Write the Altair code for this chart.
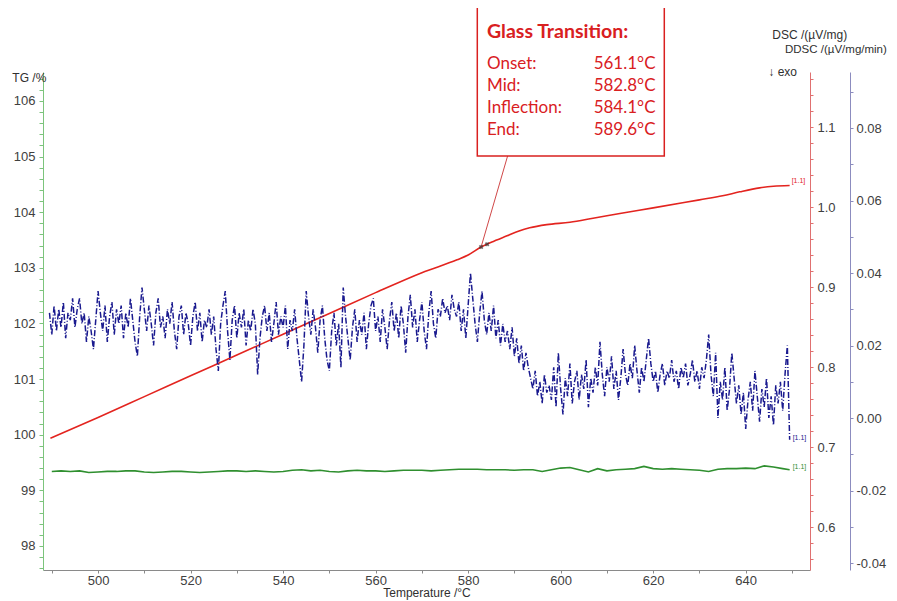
import altair as alt
import pandas as pd

# ---------------- data ----------------
X_DOMAIN = [488.1, 653.9]
TG_DOMAIN = [97.568, 106.52]
DSC_DOMAIN = [0.5463, 1.1688]
DDSC_DOMAIN = [-0.04193, 0.09545]

RED_T = [489.7, 500, 510, 520, 530, 540, 550, 560, 570, 577.6, 580, 582.8, 585,
         588.4, 591, 593.3, 597, 602, 607, 612.8, 620, 630, 635, 638.7, 643, 646, 649.5]
RED_DSC = [0.711, 0.737, 0.763, 0.789, 0.815, 0.841, 0.867, 0.893, 0.918, 0.934, 0.940,
           0.950, 0.956, 0.964, 0.970, 0.974, 0.978, 0.981, 0.986, 0.992, 0.999, 1.009,
           1.014, 1.019, 1.024, 1.026, 1.027]

GREEN_T = list(range(490, 650, 2)) + [649.5]
GREEN_TG = [99.34, 99.35, 99.34, 99.35, 99.32, 99.33, 99.34, 99.34, 99.35, 99.35,
            99.33, 99.32, 99.33, 99.34, 99.34, 99.33, 99.32, 99.33, 99.34, 99.35,
            99.35, 99.34, 99.35, 99.34, 99.33, 99.34, 99.36, 99.37, 99.35, 99.36,
            99.34, 99.33, 99.35, 99.36, 99.35, 99.35, 99.34, 99.35, 99.36, 99.36,
            99.36, 99.35, 99.36, 99.37, 99.38, 99.38, 99.38, 99.37, 99.37, 99.37,
            99.36, 99.37, 99.37, 99.34, 99.37, 99.40, 99.41, 99.37, 99.33, 99.39,
            99.35, 99.37, 99.38, 99.39, 99.43, 99.39, 99.38, 99.39, 99.38, 99.37,
            99.36, 99.34, 99.38, 99.39, 99.39, 99.40, 99.39, 99.44, 99.42, 99.39,
            99.37]

BLUE_T_START = 489.5
BLUE_T_STEP = 0.5
BLUE_DDSC = [
    0.029, 0.023, 0.031, 0.024, 0.030, 0.025, 0.032, 0.022, 0.029, 0.027,
    0.033, 0.025, 0.030, 0.033, 0.026, 0.029, 0.021, 0.028, 0.024, 0.019,
    0.027, 0.035, 0.029, 0.024, 0.031, 0.021, 0.028, 0.032, 0.023, 0.030,
    0.026, 0.031, 0.022, 0.029, 0.025, 0.033, 0.027, 0.021, 0.017, 0.028,
    0.036, 0.030, 0.024, 0.031, 0.026, 0.020, 0.029, 0.033, 0.025, 0.028,
    0.022, 0.030, 0.026, 0.032, 0.024, 0.019, 0.028, 0.031, 0.023, 0.029,
    0.026, 0.020, 0.028, 0.032, 0.024, 0.029, 0.021, 0.027, 0.025, 0.030,
    0.023, 0.028, 0.019, 0.013, 0.026, 0.031, 0.035, 0.024, 0.016, 0.027,
    0.031, 0.022, 0.029, 0.025, 0.030, 0.020, 0.027, 0.024, 0.030, 0.026,
    0.012, 0.022, 0.028, 0.031, 0.024, 0.029, 0.021, 0.026, 0.032, 0.023,
    0.028, 0.025, 0.031, 0.019, 0.027, 0.024, 0.030, 0.022, 0.016, 0.010,
    0.020, 0.035, 0.028, 0.023, 0.030, 0.025, 0.018, 0.027, 0.031, 0.022,
    0.016, 0.013, 0.024, 0.029, 0.020, 0.026, 0.014, 0.036, 0.028, 0.022,
    0.016, 0.025, 0.030, 0.021, 0.027, 0.023, 0.029, 0.019, 0.026, 0.031,
    0.033, 0.024, 0.028, 0.021, 0.030, 0.025, 0.019, 0.027, 0.032, 0.024,
    0.029, 0.022, 0.031, 0.026, 0.018, 0.028, 0.034, 0.025, 0.030, 0.021,
    0.027, 0.032, 0.024, 0.019, 0.029, 0.035, 0.026, 0.022, 0.030, 0.028,
    0.033, 0.029, 0.031, 0.027, 0.034, 0.030, 0.028, 0.032, 0.024, 0.030,
    0.022, 0.031, 0.040, 0.033, 0.026, 0.021, 0.029, 0.035, 0.027, 0.023,
    0.029, 0.024, 0.031, 0.022, 0.027, 0.020, 0.026, 0.021, 0.024, 0.019,
    0.025, 0.017, 0.022, 0.015, 0.020, 0.013, 0.018, 0.014, 0.011, 0.008,
    0.013, 0.006, 0.010, 0.004, 0.012, 0.007, 0.009, 0.005, 0.014, 0.003,
    0.018, 0.008, 0.001, 0.011, 0.006, 0.015, 0.004, 0.010, 0.013, 0.005,
    0.012, 0.008, 0.016, 0.003, 0.011, 0.007, 0.014, 0.009, 0.021, 0.012,
    0.006, 0.014, 0.010, 0.017, 0.008, 0.013, 0.005, 0.011, 0.019, 0.012,
    0.009, 0.015, 0.011, 0.020, 0.013, 0.007, 0.014, 0.010, 0.016, 0.022,
    0.015, 0.010, 0.013, 0.007, 0.012, 0.015, 0.009, 0.013, 0.011, 0.016,
    0.010, 0.013, 0.008, 0.014, 0.011, 0.015, 0.009, 0.012, 0.016, 0.010,
    0.013, 0.008, 0.014, 0.011, 0.016, 0.023, 0.012, 0.006, 0.018, 0.000,
    0.010, 0.005, 0.014, 0.002, 0.008, 0.018, 0.011, 0.004, 0.009, 0.001,
    0.007, -0.003, 0.005, 0.010, 0.002, 0.013, 0.006, -0.001, 0.008, 0.003,
    0.011, 0.000, 0.006, -0.002, 0.009, 0.004, 0.010, 0.002, 0.012, 0.020,
    -0.006,
]

GT_TITLE = "Glass Transition:"
GT_LABELS = ["Onset:", "Mid:", "Inflection:", "End:"]
GT_VALUES = [561.1, 582.8, 584.1, 589.6]
MARKER_T = [582.8, 584.1]
MARKER_DSC = [0.950, 0.9535]

X_TICKS = list(range(490, 651, 10))
TG_TICKS = [round(97.6 + 0.2 * i, 1) for i in range(45)]
DSC_TICKS = [round(0.56 + 0.02 * i, 2) for i in range(31)]
DDSC_TICKS = [round(-0.04 + 0.01 * i, 2) for i in range(14)]

# ---------------- styling ----------------
RED = "#e3241f"
GREEN = "#2f8f2f"
BLUE = "#1a1a8f"
TXT_RED = "#d9201f"
FONT = "Liberation Sans"
LABEL_COLOR = "#404040"

tg_df = pd.DataFrame({"T": GREEN_T, "TG": GREEN_TG})
dsc_df = pd.DataFrame({"T": RED_T, "DSC": RED_DSC})
ddsc_df = pd.DataFrame({
    "T": [BLUE_T_START + BLUE_T_STEP * i for i in range(len(BLUE_DDSC))],
    "DDSC": BLUE_DDSC,
})
mk_df = pd.DataFrame({"T": MARKER_T, "DSC": MARKER_DSC})

x_axis = alt.Axis(
    values=X_TICKS, labelExpr="datum.value % 20 == 0 ? format(datum.value, 'd') : ''",
    grid=False, domainColor="#8a8a8a", tickColor="#8a8a8a", tickSize=3,
    labelFont=FONT, labelFontSize=13, labelColor=LABEL_COLOR, labelPadding=1,
    labelOverlap=False, labelFlush=False,
    title="Temperature /°C", titleFont=FONT, titleFontSize=12, titleFontWeight="normal",
    titleColor="#303030", titlePadding=0,
)


def X():
    # every layer shares the same x scale and the same axis definition
    return alt.X("T:Q", scale=alt.Scale(domain=X_DOMAIN, nice=False, zero=False), axis=x_axis)


def ys(dom):
    return alt.Scale(domain=dom, nice=False, zero=False)


tg_axis = alt.Axis(
    orient="left", values=TG_TICKS,
    labelExpr="abs(datum.value - round(datum.value)) < 0.001 ? format(datum.value, 'd') : ''",
    grid=False, domainColor="#7cc47c", tickColor="#7cc47c", tickSize=4,
    labelFont=FONT, labelFontSize=13, labelColor=LABEL_COLOR, labelPadding=4,
    labelOverlap=False, title="",
)
dsc_axis = alt.Axis(
    orient="right", values=DSC_TICKS,
    labelExpr="abs(datum.value * 10 - round(datum.value * 10)) < 0.001 ? format(datum.value, '.1f') : ''",
    grid=False, domainColor="#e07070", tickColor="#e07070", tickSize=3,
    labelFont=FONT, labelFontSize=13, labelColor=LABEL_COLOR, labelPadding=4,
    labelOverlap=False, title="",
)
ddsc_axis = alt.Axis(
    orient="right", offset=40, values=DDSC_TICKS,
    labelExpr="abs(datum.value * 50 - round(datum.value * 50)) < 0.001 ? ((datum.value < -0.0001 ? '-' : '') + format(abs(datum.value), '.2f')) : ''",
    grid=False, domainColor="#8c8cbf", tickColor="#8c8cbf", tickSize=3,
    labelFont=FONT, labelFontSize=13, labelColor=LABEL_COLOR, labelPadding=3,
    labelOverlap=False, title="",
)

layers = []

# ---- TG (green) ----
layers.append(alt.Chart(tg_df).mark_line(color=GREEN, strokeWidth=1.6).encode(
    x=X(), y=alt.Y("TG:Q", scale=ys(TG_DOMAIN), axis=tg_axis),
))
layers.append(alt.Chart(tg_df.tail(1)).mark_text(
    text="[1.1]", color=GREEN, fontSize=7, align="left", dx=3, dy=-3, font=FONT
).encode(x=X(), y=alt.Y("TG:Q", scale=ys(TG_DOMAIN), axis=None)))

# ---- DSC (red) ----
layers.append(alt.Chart(dsc_df).mark_line(color=RED, strokeWidth=1.6, interpolate="monotone").encode(
    x=X(), y=alt.Y("DSC:Q", scale=ys(DSC_DOMAIN), axis=dsc_axis),
))
layers.append(alt.Chart(dsc_df.tail(1)).mark_text(
    text="[1.1]", color=RED, fontSize=7, align="left", dx=2, dy=-4, font=FONT
).encode(x=X(), y=alt.Y("DSC:Q", scale=ys(DSC_DOMAIN), axis=None)))
layers.append(alt.Chart(mk_df.head(1)).mark_rule(color="#d04848", strokeWidth=1).encode(
    x=X(), y=alt.Y("DSC:Q", scale=ys(DSC_DOMAIN), axis=None),
    x2=alt.value(464.6), y2=alt.value(84),
))
layers.append(alt.Chart(mk_df).mark_point(
    shape="cross", angle=45, size=22, color="#333333", filled=True
).encode(x=X(), y=alt.Y("DSC:Q", scale=ys(DSC_DOMAIN), axis=None)))

# ---- DDSC (blue) ----
layers.append(alt.Chart(ddsc_df).mark_line(
    color=BLUE, strokeWidth=1.5, strokeDash=[6, 2, 1, 2]
).encode(x=X(), y=alt.Y("DDSC:Q", scale=ys(DDSC_DOMAIN), axis=ddsc_axis)))
layers.append(alt.Chart(ddsc_df.tail(1)).mark_text(
    text="[1.1]", color=BLUE, fontSize=7, align="left", dx=3, dy=-2, font=FONT
).encode(x=X(), y=alt.Y("DDSC:Q", scale=ys(DDSC_DOMAIN), axis=None)))

# ---- annotations (box, texts, axis titles) ----
one = pd.DataFrame({"k": [0]})
layers.append(alt.Chart(one).mark_rect(fill="white", stroke=TXT_RED, strokeWidth=1.5).encode(
    x=alt.value(434.3), x2=alt.value(621.3), y=alt.value(-65), y2=alt.value(84)
))
layers.append(alt.Chart(one).mark_text(
    text=GT_TITLE, font="Lato", fontSize=19.5, fontWeight="bold", color=TXT_RED,
    align="left", baseline="middle"
).encode(x=alt.value(444), y=alt.value(-40)))
row_y = [-8, 14, 36, 58]
for lab, val, yy in zip(GT_LABELS, GT_VALUES, row_y):
    layers.append(alt.Chart(one).mark_text(
        text=lab, font="Lato", fontSize=17, color=TXT_RED, align="left", baseline="middle"
    ).encode(x=alt.value(444), y=alt.value(yy)))
    layers.append(alt.Chart(one).mark_text(
        text=f"{val:.1f}°C", font="Lato", fontSize=17, color=TXT_RED, align="right",
        baseline="middle"
    ).encode(x=alt.value(612.5), y=alt.value(yy)))

TITLE_TEXTS = ["TG /%", "DSC /(µV/mg)", "DDSC /(µV/mg/min)", "↓ exo"]
TITLE_POS = [(-30.7, 6), (729.3, -37), (742, -22), (725.3, 0)]
TITLE_SIZE = [12, 12, 11.5, 12]
for t, (xx, yy), fs in zip(TITLE_TEXTS, TITLE_POS, TITLE_SIZE):
    layers.append(alt.Chart(one).mark_text(
        text=t, font=FONT, fontSize=fs, color="#303030", align="left", baseline="middle"
    ).encode(x=alt.value(xx), y=alt.value(yy)))

chart = alt.layer(*layers).resolve_scale(
    y="independent"
).properties(
    width=767, height=498,
    padding={"left": 35, "top": 64, "right": 79, "bottom": 30},
    autosize=alt.AutoSizeParams(type="none"),
    background="white",
).configure_view(stroke=None)

chart.save("out.html", embed_options={"renderer": "svg", "actions": False})
